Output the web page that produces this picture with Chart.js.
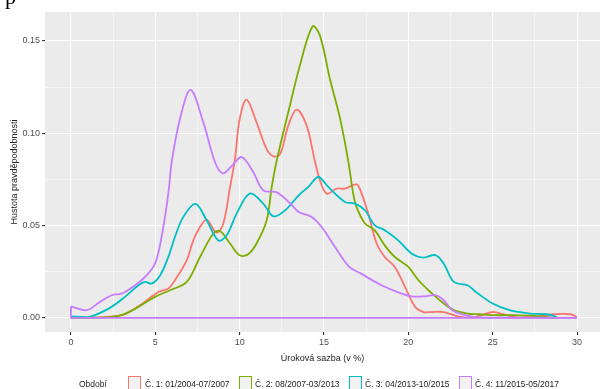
<!DOCTYPE html>
<html>
<head>
<meta charset="utf-8">
<script src="https://cdn.jsdelivr.net/npm/chart.js@4.4.1/dist/chart.umd.min.js"></script>
<style>
  body { margin: 0; background: #fff; }
  #wrap { position: relative; width: 600px; height: 389px; overflow: hidden; font-family: "Liberation Sans", Arial, sans-serif; }
  #c { position: absolute; left: 0; top: 0; }
  .lg { position: absolute; font-size: 8.5px; color: #222; line-height: 10px; top: 379px; white-space: nowrap; }
  .key { position: absolute; top: 376px; width: 11px; height: 12px; background: #F2F2F2; border: 1.5px solid; }
  #topline { position: absolute; left: 5px; top: -16px; font-family: "Liberation Serif", serif; font-size: 22px; color: #000; }
</style>
</head>
<body>
<div id="wrap">
  <canvas id="c" width="600" height="389"></canvas>
  <div id="topline">p</div>
  <div class="lg" style="left:79px">Období</div>
  <div class="key" style="left:128px;border-color:#F8766D"></div>
  <div class="lg" style="left:145px">Č. 1: 01/2004-07/2007</div>
  <div class="key" style="left:239px;border-color:#7CAE00"></div>
  <div class="lg" style="left:255px">Č. 2: 08/2007-03/2013</div>
  <div class="key" style="left:349px;border-color:#00BFC4"></div>
  <div class="lg" style="left:365px">Č. 3: 04/2013-10/2015</div>
  <div class="key" style="left:459px;border-color:#C77CFF"></div>
  <div class="lg" style="left:475px">Č. 4: 11/2015-05/2017</div>
</div>
<script>
// Kategorie / Legende
const periodNames = ['Č. 1: 01/2004-07/2007', 'Č. 2: 08/2007-03/2013', 'Č. 3: 04/2013-10/2015', 'Č. 4: 11/2015-05/2017'];
const periodColors = ['#F8766D', '#7CAE00', '#00BFC4', '#C77CFF'];

// Achsen-Ticks
const xTicks = [0, 2.5, 5, 7.5, 10, 12.5, 15, 17.5, 20, 22.5, 25, 27.5, 30];
const yTicks = [0, 0.025, 0.05, 0.075, 0.1, 0.125, 0.15];

// Č. 1
const x1 = [0, 1.5, 2.5, 3.3, 4.27, 5.18, 5.77, 6.16, 6.86, 7.25, 7.65, 8.04, 8.63, 9.03, 9.43, 9.72, 10.0, 10.41, 11.0, 11.6, 12.0, 12.4, 12.88, 13.38, 13.97, 14.46, 14.76, 15.16, 15.75, 16.24, 16.93, 17.23, 17.62, 18.12, 18.6, 19.2, 19.8, 20.4, 20.9, 21.3, 22.1, 22.9, 23.8, 24.6, 25.1, 25.8, 26.5, 27.5, 28.6, 29.6, 30];
const y1 = [0, 0.0003, 0.0008, 0.0025, 0.008, 0.0141, 0.0159, 0.0204, 0.0312, 0.042, 0.0492, 0.0532, 0.0462, 0.0511, 0.0709, 0.086, 0.1077, 0.1182, 0.1059, 0.0914, 0.0875, 0.0887, 0.1041, 0.1128, 0.1041, 0.0848, 0.0745, 0.0673, 0.07, 0.07, 0.0723, 0.0673, 0.0565, 0.0403, 0.033, 0.0276, 0.0168, 0.006, 0.0032, 0.0032, 0.0032, 0.0009, 0.0002, 0.0024, 0.0032, 0.0015, 0.0002, 0.0008, 0.002, 0.002, 0.0005];

// Č. 2
const x2 = [0, 2, 3.0, 4.0, 4.98, 5.87, 6.86, 7.65, 8.44, 8.83, 9.43, 10.0, 10.5, 11.0, 11.6, 11.9, 12.2, 12.88, 13.57, 14.32, 14.76, 15.35, 15.95, 16.44, 16.73, 16.93, 17.43, 18.0, 18.6, 19.2, 20.0, 20.6, 21.3, 22.1, 22.7, 23.5, 24.2, 25.2, 26.2, 27.8, 28.5];
const y2 = [0, 0.0003, 0.0015, 0.006, 0.0114, 0.015, 0.0195, 0.033, 0.0457, 0.0471, 0.0403, 0.0339, 0.0345, 0.0403, 0.0529, 0.0709, 0.0853, 0.1113, 0.1366, 0.1578, 0.1528, 0.1293, 0.108, 0.0848, 0.0673, 0.06, 0.0511, 0.0475, 0.0393, 0.033, 0.0276, 0.0204, 0.0141, 0.0078, 0.0042, 0.0024, 0.002, 0.0015, 0.0015, 0.0009, 0.0002];

// Č. 3
const x3 = [0, 1.0, 1.42, 2.41, 3.2, 4.0, 4.39, 4.78, 5.28, 5.77, 6.16, 6.66, 7.38, 8.04, 8.73, 9.23, 9.82, 10.6, 11.4, 12.0, 12.7, 13.5, 14.07, 14.66, 15.25, 16.24, 16.83, 17.43, 18.0, 18.6, 19.4, 20.2, 20.9, 21.6, 22.1, 22.7, 23.5, 24.0, 25.0, 26.0, 27.2, 28.2, 28.8];
const y3 = [0.0009, 0.0005, 0.0015, 0.006, 0.0114, 0.0177, 0.0195, 0.0186, 0.023, 0.033, 0.0438, 0.0547, 0.0617, 0.0529, 0.042, 0.0448, 0.0565, 0.0673, 0.0619, 0.055, 0.0583, 0.0664, 0.0709, 0.0763, 0.0709, 0.0628, 0.0619, 0.0583, 0.0502, 0.0475, 0.042, 0.0348, 0.0327, 0.034, 0.0294, 0.0195, 0.0177, 0.0141, 0.0078, 0.0042, 0.0024, 0.002, 0.0005];

// Č. 4
const x4 = [0, 0.93, 1.72, 2.41, 3.0, 3.8, 4.39, 4.98, 5.37, 5.77, 5.97, 6.46, 7.09, 7.84, 8.54, 9.0, 9.5, 10.12, 10.8, 11.4, 12.2, 13.0, 13.5, 14.27, 14.86, 15.65, 16.5, 17.2, 18.4, 19.6, 20.2, 21.0, 21.6, 22.1, 22.6, 23.2, 24.0, 26, 28, 30];
const y4 = [0.0063, 0.0042, 0.0087, 0.0123, 0.0132, 0.0177, 0.0222, 0.0294, 0.0438, 0.0673, 0.0843, 0.1077, 0.1234, 0.106, 0.0843, 0.0783, 0.082, 0.0871, 0.079, 0.069, 0.068, 0.062, 0.0574, 0.0547, 0.0492, 0.0384, 0.0276, 0.024, 0.0177, 0.0132, 0.0117, 0.0117, 0.0123, 0.0096, 0.0042, 0.002, 0.0005, 0.0002, 0.0001, 0];

// Grundlinie der letzten Dichte (wird von ggplot mitgezeichnet)
const xBase = [0, 0, 30];
const yBase = [0.0063, 0, 0];

const xs = [x1, x2, x3, x4];
const ys = [y1, y2, y3, y4];

function toPoints(xArr, yArr) {
    return xArr.map((x, i) => ({x: x, y: yArr[i]}));
}

const datasets = periodNames.map((name, i) => ({
    label: name,
    data: toPoints(xs[i], ys[i]),
    borderColor: periodColors[i],
    borderWidth: 1.8,
    pointRadius: 0,
    fill: false,
    tension: 0.35,
    order: 3 - i // letzte Periode oben
}));
datasets.push({
    label: 'base',
    data: toPoints(xBase, yBase),
    borderColor: periodColors[3],
    borderWidth: 1.8,
    pointRadius: 0,
    tension: 0,
    order: -1
});

const panelBg = {
    id: 'panelBg',
    beforeDraw(chart) {
        const a = chart.chartArea;
        const ctx = chart.ctx;
        ctx.save();
        ctx.fillStyle = '#EBEBEB';
        ctx.fillRect(a.left, a.top, a.right - a.left, a.bottom - a.top);
        ctx.restore();
    }
};

const isMajorX = v => Math.abs(v % 5) < 1e-9;
const isMajorY = v => Math.abs(Math.round(v * 1000) % 50) < 1e-9;

new Chart(document.getElementById('c'), {
    type: 'line',
    data: {datasets: datasets},
    plugins: [panelBg],
    options: {
        responsive: false,
        animation: false,
        devicePixelRatio: 1,
        layout: {padding: {top: 12, right: 0, left: 0, bottom: 25}},
        plugins: {legend: {display: false}, tooltip: {enabled: false}},
        scales: {
            x: {
                type: 'linear',
                min: -1.54,
                max: 31.36,
                afterBuildTicks: scale => { scale.ticks = xTicks.map(v => ({value: v})); },
                afterFit: scale => { scale.height = 32; },
                border: {display: false},
                grid: {
                    color: '#FFFFFF',
                    lineWidth: ctx => isMajorX(ctx.tick.value) ? 1.1 : 0.5,
                    tickColor: ctx => isMajorX(ctx.tick.value) ? '#333333' : 'rgba(0,0,0,0)',
                    tickLength: 3,
                    drawTicks: true
                },
                ticks: {
                    autoSkip: false,
                    maxRotation: 0,
                    padding: 2,
                    color: '#4D4D4D',
                    font: {family: 'Liberation Sans', size: 9},
                    callback: v => isMajorX(v) ? String(v) : ''
                },
                title: {
                    display: true,
                    text: 'Úroková sazba (v %)',
                    color: '#222',
                    font: {family: 'Liberation Sans', size: 9},
                    padding: {top: 2, bottom: 0}
                }
            },
            y: {
                min: -0.0076,
                max: 0.1656,
                afterBuildTicks: scale => { scale.ticks = yTicks.map(v => ({value: v})); },
                afterFit: scale => { scale.width = 45; },
                border: {display: false},
                grid: {
                    color: '#FFFFFF',
                    lineWidth: ctx => isMajorY(ctx.tick.value) ? 1.1 : 0.5,
                    tickColor: ctx => isMajorY(ctx.tick.value) ? '#333333' : 'rgba(0,0,0,0)',
                    tickLength: 3,
                    drawTicks: true
                },
                ticks: {
                    autoSkip: false,
                    padding: 2,
                    color: '#4D4D4D',
                    font: {family: 'Liberation Sans', size: 9},
                    callback: v => isMajorY(v) ? v.toFixed(2) : ''
                },
                title: {
                    display: true,
                    text: 'Hustota pravděpodobnosti',
                    color: '#222',
                    font: {family: 'Liberation Sans', size: 9},
                    padding: {top: 9, bottom: 0}
                }
            }
        }
    }
});
</script>
</body>
</html>
